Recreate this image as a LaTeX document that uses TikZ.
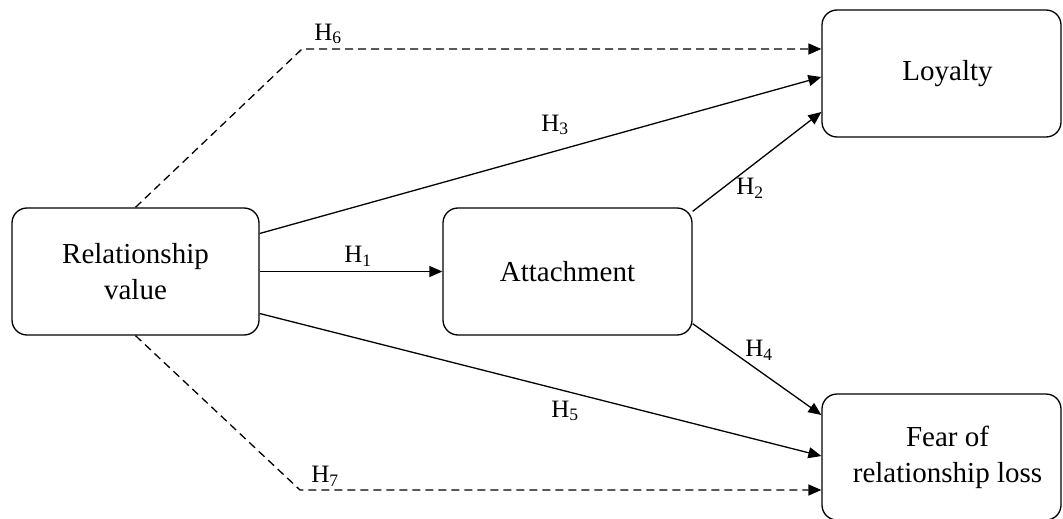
\documentclass[tikz,border=0pt]{standalone}
\usepackage{fontspec}
\setmainfont{Liberation Serif}
\usetikzlibrary{arrows.meta}
\begin{document}
\begin{tikzpicture}[x=1pt,y=-1pt,
  box/.style={draw, line width=1.3pt, rounded corners=15pt, inner sep=0pt, align=center,
    font=\fontsize{29}{36}\selectfont},
  link/.style={line width=1.3pt, -{Triangle[length=13pt,width=11pt]}},
  dlink/.style={link, dash pattern=on 8pt off 5pt},
  hlab/.style={inner sep=0pt, font=\fontsize{25}{28}\selectfont}]
\useasboundingbox (0,0) rectangle (1063,519);
\node[box, minimum width=247pt, minimum height=127pt] (rv) at (135.5,271.5) {Relationship\\value};
\node[box, minimum width=249pt, minimum height=127pt] (att) at (567.5,271.5) {Attachment};
\node[box, minimum width=239pt, minimum height=127pt] (loy) at (941.5,73.5) {\hspace*{12pt}Loyalty};
\node[box, minimum width=239pt, minimum height=126pt] (fear) at (941.5,457) {\hspace*{12pt}Fear of\\\hspace*{12pt}relationship loss};
\coordinate (c6) at (302,49);
\coordinate (c7) at (300,490);
\draw[dlink] (rv.north) -- (c6) -- (c6 -| loy.west);
\draw[link] ([yshift=38pt]rv.east) -- ([yshift=-3.5pt]loy.west);
\draw[link] ([yshift=-4pt]att.north east) -- ([yshift=-38.5pt]loy.west);
\draw[link] (rv.east) -- (att.west);
\draw[link] ([yshift=12pt]att.south east) -- ([yshift=42pt]fear.west);
\draw[link] ([yshift=-42pt]rv.east) -- ([yshift=1pt]fear.west);
\draw[dlink] (rv.south) -- (c7) -- (c7 -| fear.west);
\node[hlab] (h6) at (328,34) {H\textsubscript{6}};
\node[hlab] (h3) at (555,125) {H\textsubscript{3}};
\node[hlab] (h2) at (750,188) {H\textsubscript{2}};
\node[hlab] (h1) at (358,256) {H\textsubscript{1}};
\node[hlab] (h4) at (759,350) {H\textsubscript{4}};
\node[hlab] (h5) at (565,411) {H\textsubscript{5}};
\node[hlab] (h7) at (325,476) {H\textsubscript{7}};
\end{tikzpicture}
\end{document}
